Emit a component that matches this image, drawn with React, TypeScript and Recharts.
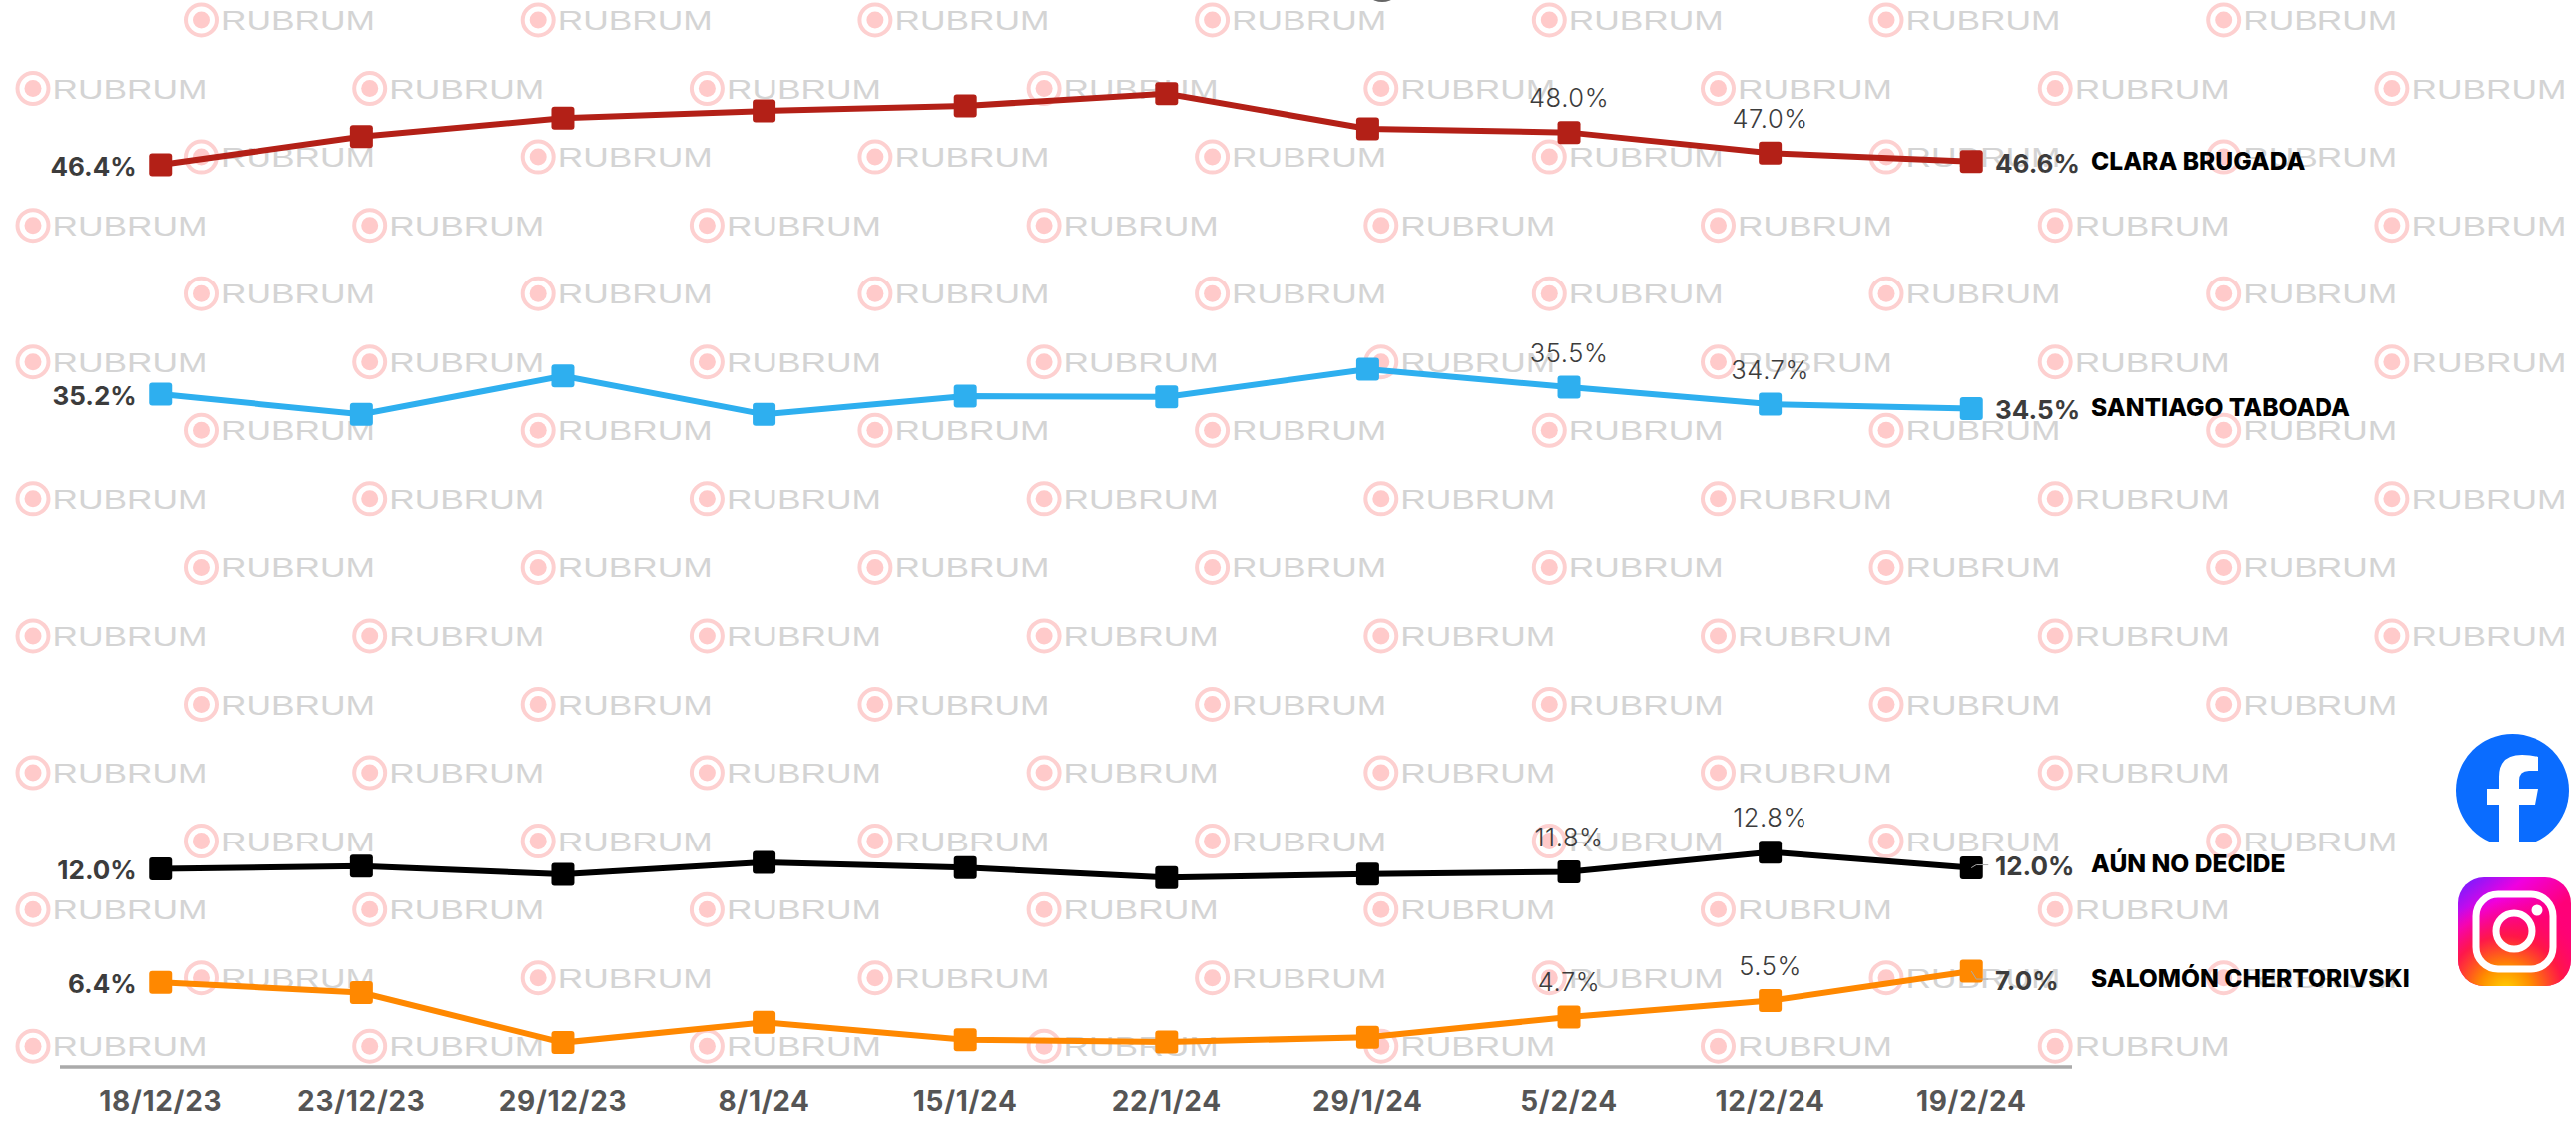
import React from 'react'
import { LineChart, Line, XAxis, YAxis } from 'recharts'

const dates = ['18/12/23', '23/12/23', '29/12/23', '8/1/24', '15/1/24', '22/1/24', '29/1/24', '5/2/24', '12/2/24', '19/2/24']

const brugada = [46.4, 47.78, 48.68, 49.03, 49.28, 49.88, 48.16, 47.98, 46.97, 46.56]
const taboada = [35.18, 34.19, 36.07, 34.19, 35.08, 35.05, 36.4, 35.52, 34.69, 34.47]
const noDecide = [11.98, 12.12, 11.72, 12.3, 12.04, 11.56, 11.73, 11.84, 12.8, 12.03]
const chertorivski = [6.44, 5.93, 3.49, 4.48, 3.63, 3.52, 3.75, 4.74, 5.54, 6.98]

const chartData = dates.map((date, i) => ({
  date,
  brugada: brugada[i],
  taboada: taboada[i],
  noDecide: noDecide[i],
  chertorivski: chertorivski[i],
}))

const FONT = 'Inter, sans-serif'

function squareDot(color: string) {
  return (props: any) => (
    <rect
      key={props.index}
      x={props.cx - 11.5}
      y={props.cy - 11.5}
      width={23}
      height={23}
      rx={3}
      fill={color}
    />
  )
}

// first point gets a bold label on the left, the last one value + name on the right,
// the two before it a light label above
function pointLabels(name: string, endDy: number, leaderDy?: number) {
  return (props: any) => {
    const { x, y, index, value } = props
    const text = `${Number(value).toFixed(1)}%`
    if (index === 0) {
      return (
        <text x={x - 24} y={y + 1} textAnchor="end" dominantBaseline="central"
          fontFamily={FONT} fontSize={26} fontWeight={700} fill="#3c3c3c">
          {text}
        </text>
      )
    }
    if (index === dates.length - 1) {
      return (
        <g>
          {leaderDy !== undefined && (
            <path d={`M${x} ${y}L${x + 5} ${y + leaderDy}L${x + 17} ${y + leaderDy}`}
              fill="none" stroke="#aaa" strokeWidth={1} />
          )}
          <text x={1999} y={y + endDy} dominantBaseline="central"
            fontFamily={FONT} fontSize={26} fontWeight={700} fill="#3c3c3c">
            {text}
          </text>
          <text x={2095} y={y + endDy - 2.5} dominantBaseline="central"
            fontFamily={FONT} fontSize={24.6} fontWeight={800} fill="#000">
            {name}
          </text>
        </g>
      )
    }
    if (index >= dates.length - 3) {
      return (
        <text x={x} y={y - 35} textAnchor="middle" dominantBaseline="central"
          fontFamily={FONT} fontSize={25.5} fontWeight={300} letterSpacing={0.6} fill="#3c3c3c">
          {text}
        </text>
      )
    }
    return null
  }
}

function Mark({ x, y }: { x: number; y: number }) {
  return (
    <g>
      <circle cx={x} cy={y} r={15.5} fill="#fff" stroke="#fdd0d0" strokeWidth={4} />
      <circle cx={x} cy={y} r={8.5} fill="#ffcaca" />
      <text x={x + 19.5} y={y + 10} fontFamily="Liberation Sans, sans-serif" fontSize={28}
        textLength={155} lengthAdjust="spacingAndGlyphs" fill="#d4d4d4">
        RUBRUM
      </text>
    </g>
  )
}

function Watermark() {
  const marks: React.ReactNode[] = []
  for (let row = 0; row < 16; row++) {
    const odd = row % 2 === 1
    const count = odd ? (row >= 11 ? 7 : 8) : 7
    for (let col = 0; col < count; col++) {
      marks.push(
        <Mark key={`${row}-${col}`} x={(odd ? 33 : 201.5) + col * 337.7} y={20 + row * 68.55} />,
      )
    }
  }
  return <>{marks}</>
}

function Icons() {
  return (
    <g>
      <defs>
        <clipPath id="fbClip">
          <rect x={2450} y={725} width={131} height={118} />
        </clipPath>
        <linearGradient id="igTop" x1="0.1" y1="0" x2="0.55" y2="0.55">
          <stop offset="0%" stopColor="#7a1cff" />
          <stop offset="45%" stopColor="#f000e0" />
          <stop offset="100%" stopColor="#ff0078" />
        </linearGradient>
        <radialGradient id="igBottom" cx="0.42" cy="1.05" r="0.85">
          <stop offset="0%" stopColor="#ffd600" />
          <stop offset="28%" stopColor="#ff8a00" />
          <stop offset="60%" stopColor="#ff1a40" stopOpacity={0.9} />
          <stop offset="100%" stopColor="#ff0078" stopOpacity={0} />
        </radialGradient>
      </defs>
      <g clipPath="url(#fbClip)">
        <circle cx={2517.5} cy={791.5} r={56.5} fill="#0a6cff" />
        <path d="M2504 850V806H2492V790H2504V778Q2504 756 2527 756Q2536 756 2543 758V772H2534Q2524 772 2524 782V790H2543L2540 806H2524V850Z" fill="#fff" />
      </g>
      <rect x={2463} y={879} width={113} height={109} rx={26} fill="url(#igTop)" />
      <rect x={2463} y={879} width={113} height={109} rx={26} fill="url(#igBottom)" />
      <rect x={2481} y={896} width={77} height={75} rx={22} fill="none" stroke="#fff" strokeWidth={7} />
      <circle cx={2519} cy={933} r={18} fill="none" stroke="#fff" strokeWidth={7} />
      <circle cx={2542} cy={912} r={5.5} fill="#fff" />
    </g>
  )
}

export default function App() {
  return (
    <div style={{ position: 'absolute', left: 0, top: 0, width: 2581, height: 1126, background: '#fff' }}>
      <svg width={2581} height={1126} style={{ position: 'absolute', left: 0, top: 0 }}>
        <Watermark />
        <Icons />
        <ellipse cx={1385} cy={-2} rx={10} ry={4} fill="#666" />
      </svg>
      <div style={{ position: 'absolute', left: 0, top: 0 }}>
        <LineChart width={2581} height={1126} data={chartData} margin={{ top: 0, right: 505, bottom: 0, left: 60 }}>
          <XAxis
            dataKey="date"
            interval={0}
            height={57}
            padding={{ left: 100.75, right: 100.75 }}
            axisLine={{ stroke: '#aaa', strokeWidth: 3.5 }}
            tickLine={false}
            tickMargin={18}
            tick={{ fill: '#555', fontSize: 28, fontWeight: 700, fontFamily: FONT, letterSpacing: 0.7 }}
          />
          <YAxis hide domain={[2.3, 54.45]} />
          <Line dataKey="brugada" stroke="#b32017" strokeWidth={6} isAnimationActive={false}
            dot={squareDot('#b32017')} label={pointLabels('CLARA BRUGADA', 1.5)} />
          <Line dataKey="taboada" stroke="#2eafef" strokeWidth={6} isAnimationActive={false}
            dot={squareDot('#2eafef')} label={pointLabels('SANTIAGO TABOADA', 1)} />
          <Line dataKey="noDecide" stroke="#000" strokeWidth={6} isAnimationActive={false}
            dot={squareDot('#000')} label={pointLabels('AÚN NO DECIDE', -2, -3)} />
          <Line dataKey="chertorivski" stroke="#ff8800" strokeWidth={6} isAnimationActive={false}
            dot={squareDot('#ff8800')} label={pointLabels('SALOMÓN CHERTORIVSKI', 9, 8)} />
        </LineChart>
      </div>
    </div>
  )
}
